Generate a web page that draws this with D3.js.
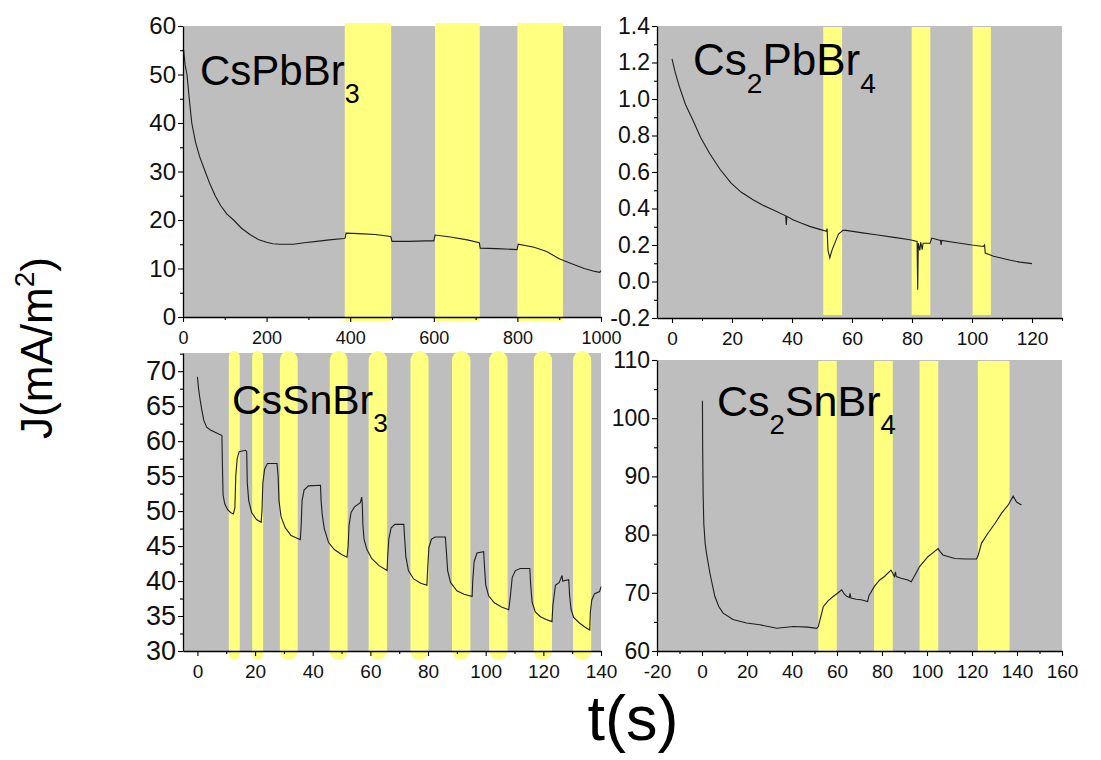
<!DOCTYPE html>
<html><head><meta charset="utf-8">
<script src="https://cdn.jsdelivr.net/npm/d3@7"></script>
<style>body{margin:0;background:#fff;} svg{display:block;font-family:"Liberation Sans",Arial,sans-serif;}</style>
</head><body><svg id="c" width="1101" height="760"></svg>
<script>
// ---------------- DATA ----------------
// Panel 1: CsPbBr3
const p1Time = [0,1.6,5,9.5,15,21,30,40,53,65,77,90,105,121,140,160,180,200,215,232,264,290,320,350,385,388,390,420,460,497,500,540,580,600,603,640,680,709,711,750,799,802,840,870,900,930,960,985,997,1000];
const p1J    = [55.2,55,52,50,45,40,36,33,30,27.3,25,23,21.2,20,18.3,17,16,15.4,15.1,15,15,15.3,15.6,15.9,16.2,16.3,17.3,17.2,17,16.6,15.6,15.6,15.7,15.7,16.9,16.5,15.9,15.3,14.2,14.1,13.9,15.0,14.4,13.5,12,11,10,9.4,9.2,9.6];
const p1Bands = [[387,498],[603,710],[800,909]];
const p1XTicks = [0,200,400,600,800,1000];
const p1XMinor = [100,300,500,700,900];
const p1YTicks = [0,10,20,30,40,50,60];
const p1YMinor = [5,15,25,35,45,55];

// Panel 2: Cs2PbBr4
const p2Time = [0,1,2.45,4.5,6.9,9.5,12.5,16,19.7,23,27,30,33.6,37.9,38.1,38.3,40.3,43,45.9,49,51.5,51.7,52.0,52.6,53.3,54.5,55.5,57,58,63,68,74,79.3,81.7,81.9,82.1,82.6,82.9,83.4,83.7,86,86.6,88,89.5,89.7,89.9,96,100,103.8,104.2,104.4,107.2,112.8,116,120];
const p2J    = [1.22,1.15,1.068,0.97,0.886,0.79,0.703,0.615,0.539,0.49,0.448,0.42,0.393,0.36,0.31,0.357,0.338,0.32,0.302,0.287,0.275,0.29,0.17,0.13,0.17,0.22,0.26,0.28,0.28,0.268,0.256,0.242,0.229,0.22,-0.045,0.21,0.17,0.215,0.175,0.21,0.21,0.238,0.232,0.225,0.2,0.225,0.21,0.2,0.192,0.2,0.156,0.138,0.116,0.106,0.098];
const p2Bands = [[50.4,56.7],[79.9,86.1],[100.2,106.3]];
const p2XTicks = [0,20,40,60,80,100,120];
const p2XMinor = [10,30,50,70,90,110,130];
const p2YTicks = [-0.2,0,0.2,0.4,0.6,0.8,1.0,1.2,1.4];
const p2YMinor = [-0.1,0.1,0.3,0.5,0.7,0.9,1.1,1.3];

// Panel 3: CsSnBr3
const p3Time = [0,0.4,0.8,1.5,2.2,3.2,4.5,6.5,8.5,8.7,8.9,9.5,10.5,11.5,12.5,13.0,13.3,13.8,14.5,16.7,17.1,17.3,17.8,18.8,20.5,22.1,22.4,22.7,23.3,24.3,27.6,28.0,28.3,29,30.5,32.5,35.7,36.0,36.3,37,38.5,42.7,42.9,43.3,44,45.5,47.5,50,51.9,52.3,52.6,53.3,54.5,56.5,57.0,57.2,57.4,57.8,58.8,60.5,63,65.8,66.0,66.4,67.2,68.5,71.6,71.9,72.3,73.2,75,77.5,79.6,79.9,80.3,81.2,82.5,86.0,86.4,86.8,87.8,90,92.5,95.3,95.5,96,97,99.3,99.6,100,101,103,105.5,108,108.6,109.2,110.3,112,115.3,115.6,116.1,117.2,119,121,123.0,123.3,124.2,125.5,126.5,126.7,128.8,129.1,129.6,130.5,132.5,134.5,136.1,136.3,136.8,137.8,139.5,140];
const p3J    = [69.2,67.5,66.3,64.5,63,62,61.6,61.2,60.8,56,52.3,51,50.2,49.8,49.6,50.5,55,57.5,58.5,58.7,58.5,54,51.5,49.8,48.8,48.4,50,54,56,56.8,56.8,55,51.5,49.2,47.6,46.5,45.9,48,51.5,53,53.6,53.7,51.5,49.5,47.5,45.5,44.5,43.8,43.4,45,48,49.8,50.6,51.2,52,51,48,46,44.5,43.2,42.2,41.5,43.5,46,47.6,48.1,48.1,46,43.5,41.5,40.3,39.7,39.4,42,44.8,46,46.3,46.3,44,41.5,39.8,38.6,38.1,37.8,40,42.8,44,44.2,42,39.5,37.9,36.9,36.3,35.9,38,40.5,41.5,41.8,41.8,39.5,37,35.6,34.9,34.5,34.2,36.5,39.4,39.8,40.8,40,40.2,38,36,34.8,34,33.4,33.0,35.5,37.3,38.2,38.5,39.2];
const p3Bands = [[10.9,14.7],[19,22.8],[28.6,34.8],[45.9,52.1],[59.4,65.8],[73.9,80.2],[88.3,94.7],[101.2,107.6],[116.7,123],[130.3,136.6]];
const p3XTicks = [0,20,40,60,80,100,120,140];
const p3XMinor = [10,30,50,70,90,110,130];
const p3YTicks = [30,35,40,45,50,55,60,65,70];
const p3YMinor = [32.5,37.5,42.5,47.5,52.5,57.5,62.5,67.5,72.5];

// Panel 4: Cs2SnBr4
const p4Time = [0.2,0.3,0.5,0.8,1.4,2.0,3.5,5.7,7.5,9.4,13.8,19.8,25.7,33.2,40.6,47,51,51.7,53.9,56,58.4,60.5,62.1,63.2,64.3,65.5,65.8,66.2,68.5,70.7,73.6,74.2,76.6,79,81.1,84.0,85.5,86.0,86.3,88.5,91.5,93,94,96.7,100.4,103,104.9,106,107.1,112.3,117,122,122.8,124.2,127,130.2,133,136.1,138.3,139.8,142];
const p4J    = [103,95,87,81.9,78.5,76.8,73.4,69.4,67.6,66.5,65.4,64.8,64.5,63.9,64.2,64.1,63.9,64.2,67.6,68.6,69.4,70,70.5,69.8,69.4,69.2,69.9,69.1,68.9,68.8,68.5,69.5,71.1,72.2,72.8,73.9,72.8,73.6,72.8,72.5,72.2,71.9,72.6,74.5,76.2,77,77.6,77,76.5,75.9,75.8,75.8,76.5,78.5,80.2,81.9,83.6,85.1,86.6,85.6,85.1];
const p4Bands = [[51.7,59.9],[76.5,84.8],[96.7,105],[122.6,136.7]];
const p4XTicks = [-20,0,20,40,60,80,100,120,140,160];
const p4XMinor = [-10,10,30,50,70,90,110,130,150];
const p4YTicks = [60,70,80,90,100,110];
const p4YMinor = [65,75,85,95,105];

const titles = [
  [["CsPbBr",0],["3",1]],
  [["Cs",0],["2",1],["PbBr",0],["4",1]],
  [["CsSnBr",0],["3",1]],
  [["Cs",0],["2",1],["SnBr",0],["4",1]]
];

// ---------------- LAYOUT / STYLE ----------------
const GRAY = "#bebebe", YELLOW = "#ffff80";
const fmtInt = d => String(d);
const fmt1 = d => d.toFixed(1);
const panels = [
  {t:p1Time, v:p1J, bands:p1Bands, xt:p1XTicks, xm:p1XMinor, yt:p1YTicks, ym:p1YMinor, xd:[0,1000], yd:[0,60],
   L:183, R:601, T:26, B:317, bandTop:3, bandBot:4, pill:false, yFmt:fmtInt, yFont:24, xFont:18,
   title:titles[0], tx:200, ty:85, tFont:42},
  {t:p2Time, v:p2J, bands:p2Bands, xt:p2XTicks, xm:p2XMinor, yt:p2YTicks, ym:p2YMinor, xd:[-5,130], yd:[-0.2,1.4],
   L:657, R:1062, T:26, B:318, bandTop:-1, bandBot:-3, pill:false, yFmt:fmt1, yFont:23, xFont:19,
   title:titles[1], tx:693, ty:75, tFont:44},
  {t:p3Time, v:p3J, bands:p3Bands, xt:p3XTicks, xm:p3XMinor, yt:p3YTicks, ym:p3YMinor, xd:[-5,140], yd:[30,72.6],
   L:183, R:601, T:353, B:651, bandTop:2, bandBot:9, pill:true, yFmt:fmtInt, yFont:27, xFont:19,
   title:titles[2], tx:232, ty:414, tFont:41},
  {t:p4Time, v:p4J, bands:p4Bands, xt:p4XTicks, xm:p4XMinor, yt:p4YTicks, ym:p4YMinor, xd:[-20,160], yd:[60,110],
   L:657, R:1062, T:360, B:651, bandTop:-1, bandBot:0, pill:false, yFmt:fmtInt, yFont:23, xFont:19,
   title:titles[3], tx:717, ty:416, tFont:43}
];

const svg = d3.select("#c");

panels.forEach(p => {
  const x = d3.scaleLinear().domain(p.xd).range([p.L, p.R]);
  const y = d3.scaleLinear().domain(p.yd).range([p.B, p.T]);
  const g = svg.append("g");
  g.append("rect").attr("x", p.L).attr("y", p.T).attr("width", p.R - p.L).attr("height", p.B - p.T).attr("fill", GRAY);
  g.selectAll("rect.band").data(p.bands).join("rect").attr("class","band")
    .attr("x", d => x(d[0])).attr("width", d => x(d[1]) - x(d[0]))
    .attr("y", p.T - p.bandTop).attr("height", (p.B - p.T) + p.bandTop + p.bandBot)
    .attr("rx", d => p.pill ? (x(d[1]) - x(d[0])) / 2 : 0)
    .attr("fill", YELLOW);
  const pts = p.t.map((tt, i) => [tt, p.v[i]]);
  g.append("path").datum(pts)
    .attr("d", d3.line().x(d => x(d[0])).y(d => y(d[1])))
    .attr("fill", "none").attr("stroke", "#1e1e1e").attr("stroke-width", 1.1);

  // minor ticks
  g.append("g").attr("transform", `translate(0,${p.B})`)
    .call(d3.axisBottom(x).tickValues(p.xm).tickSize(3).tickFormat(""))
    .call(a => a.select(".domain").remove());
  g.append("g").attr("transform", `translate(${p.L},0)`)
    .call(d3.axisLeft(y).tickValues(p.ym.filter(v => v <= p.yd[1])).tickSize(3).tickFormat(""))
    .call(a => a.select(".domain").remove());
  // major axes
  const xa = g.append("g").attr("transform", `translate(0,${p.B})`)
    .call(d3.axisBottom(x).tickValues(p.xt).tickSize(5).tickSizeOuter(0).tickPadding(9).tickFormat(fmtInt));
  xa.selectAll("text").attr("font-size", p.xFont).attr("fill", "#111").style("font-family", '"Liberation Sans",Arial,sans-serif');
  const ya = g.append("g").attr("transform", `translate(${p.L},0)`)
    .call(d3.axisLeft(y).tickValues(p.yt).tickSize(5).tickSizeOuter(0).tickPadding(2).tickFormat(p.yFmt));
  ya.selectAll("text").attr("font-size", p.yFont).attr("fill", "#111").style("font-family", '"Liberation Sans",Arial,sans-serif');
  g.selectAll(".domain").attr("stroke", "#000").attr("stroke-width", 1.3);
  g.selectAll(".tick line").attr("stroke", "#000").attr("stroke-width", 1.1);

  // panel title with subscripts
  const tt = g.append("text").attr("x", p.tx).attr("y", p.ty)
    .attr("font-size", p.tFont).attr("fill", "#000");
  let shifted = false;
  p.title.forEach(([s, sub]) => {
    const sp = tt.append("tspan").text(s);
    if (sub && !shifted) { sp.attr("dy", 18).attr("font-size", p.tFont * 0.64); shifted = true; }
    else if (!sub && shifted) { sp.attr("dy", -18); shifted = false; }
    else if (sub) { sp.attr("font-size", p.tFont * 0.64); }
  });
});

// axis titles
const yt = svg.append("text").attr("transform", "translate(52,348) rotate(-90)")
  .attr("text-anchor", "middle").attr("font-size", 44).attr("fill", "#000");
yt.append("tspan").text("J(mA/m");
yt.append("tspan").text("2").attr("font-size", 28).attr("dy", -18);
yt.append("tspan").text(")").attr("dy", 18);

svg.append("text").attr("x", 633).attr("y", 740).attr("text-anchor", "middle")
  .attr("font-size", 63).attr("fill", "#000").text("t(s)");
</script></body></html>
